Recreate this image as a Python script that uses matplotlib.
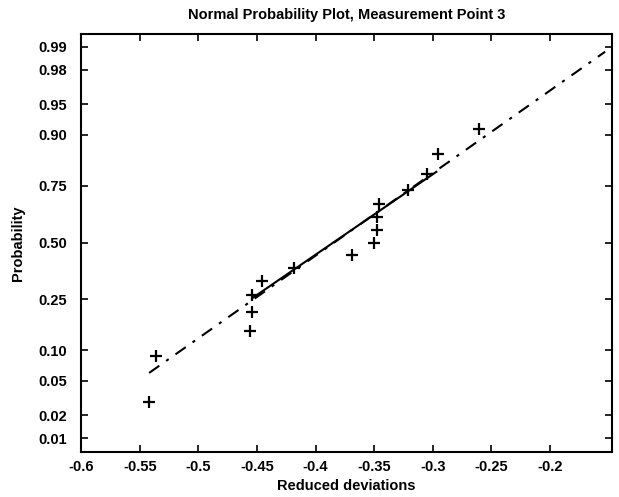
import numpy as np
import matplotlib.pyplot as plt
from statistics import NormalDist

# Точки графика (отклонения и вероятности)
x_vals = [-0.542, -0.536, -0.456, -0.454, -0.454, -0.446, -0.418, -0.369,
          -0.350, -0.348, -0.348, -0.346, -0.321, -0.305, -0.296, -0.261]
p_vals = [0.029, 0.088, 0.147, 0.206, 0.265, 0.324, 0.382, 0.441,
          0.500, 0.559, 0.618, 0.676, 0.735, 0.794, 0.853, 0.912]

# Опорная линия: сплошной участок и штрихпунктир
solid_x = [-0.4535, -0.297]
solid_p = [0.256, 0.800]
dash_x = [-0.542, -0.153]
dash_p = [0.0606, 0.9884]

prob_ticks = [0.01, 0.02, 0.05, 0.10, 0.25, 0.50, 0.75, 0.90, 0.95, 0.98, 0.99]

nd = NormalDist()
q = lambda ps: [nd.inv_cdf(p) for p in ps]

plt.rcParams['font.family'] = ['Liberation Sans', 'DejaVu Sans']
plt.rcParams['font.weight'] = 'bold'

fig = plt.figure(figsize=(6.19, 4.97), dpi=100)
ax = fig.add_axes([0.131, 0.0905, 0.858, 0.841])

ax.plot(dash_x, q(dash_p), color='black', lw=1.5, linestyle=(0, (6, 4, 1.5, 4)))
ax.plot(solid_x, q(solid_p), color='black', lw=1.5)
ax.plot(x_vals, q(p_vals), '+', color='black', ms=9, mew=1.6)

ax.set_xlim(-0.6, -0.147)
ax.set_ylim(-2.49, 2.48)
ax.set_xticks(np.arange(-0.6, -0.19, 0.05))
ax.set_xticklabels(['-0.6', '-0.55', '-0.5', '-0.45', '-0.4', '-0.35', '-0.3', '-0.25', '-0.2'])
ax.set_yticks(q(prob_ticks))
ax.set_yticklabels(['%.2f' % p for p in prob_ticks])
ax.tick_params(direction='in', top=True, right=True, length=5, width=1.2,
               labelsize=10.5)
ax.tick_params(axis='y', pad=10)
ax.tick_params(axis='x', pad=6)
for s in ax.spines.values():
    s.set_linewidth(1.5)

ax.set_title('Normal Probability Plot, Measurement Point 3', fontsize=10.5, fontweight='bold', pad=11)
ax.set_xlabel('Reduced deviations', fontsize=10.5, fontweight='bold', labelpad=3)
ax.set_ylabel('Probability', fontsize=10.5, fontweight='bold', labelpad=10)

plt.savefig('out.png')
